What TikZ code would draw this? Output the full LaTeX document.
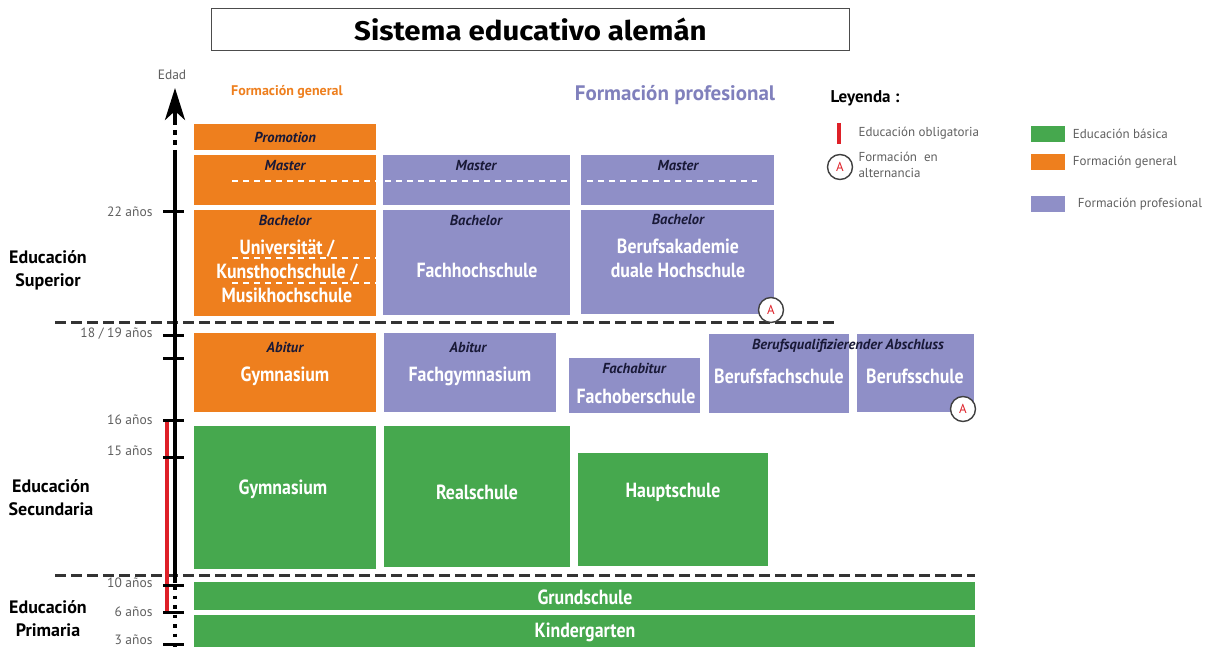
\documentclass[tikz,border=0pt]{standalone}
\usepackage{fontspec}
\setmainfont{PT Sans}
\setsansfont{PT Sans}
\newfontfamily\schoolfont[FakeStretch=0.87]{PT Sans}
\newfontfamily\titlefont[FakeStretch=1.09]{Fira Sans}
\usetikzlibrary{positioning,arrows.meta}

\definecolor{genOrange}{RGB}{238,127,30}
\definecolor{basGreen}{RGB}{70,168,78}
\definecolor{proPurple}{RGB}{143,143,199}
\definecolor{proHead}{RGB}{128,128,188}
\definecolor{degNavy}{RGB}{25,25,55}
\definecolor{ageGray}{RGB}{95,95,95}
\definecolor{oblRed}{RGB}{222,32,40}

\tikzset{
  box/.style={rectangle,inner sep=0pt,anchor=north west},
  genbox/.style={box,fill=genOrange},
  probox/.style={box,fill=proPurple},
  basbox/.style={box,fill=basGreen},
  school/.style={font=\schoolfont\bfseries\fontsize{20.5}{24}\selectfont,text=white,align=center},
  degree/.style={font=\bfseries\itshape\fontsize{14.5}{16}\selectfont,text=degNavy},
  agelbl/.style={font=\fontsize{13.5}{15}\selectfont,text=ageGray,anchor=east},
  level/.style={font=\bfseries\fontsize{18}{23}\selectfont,align=center},
  legtxt/.style={font=\fontsize{13}{16}\selectfont,text=ageGray,anchor=west,align=left},
  legbox/.style={box,minimum width=34pt,minimum height=16pt},
  altern/.style={circle,draw=black!75,line width=1.4pt,fill=white,inner sep=0pt,minimum size=25pt,text=oblRed,font=\fontsize{13}{13}\selectfont},
  stage/.style={draw=black!80,line width=3pt,dash pattern=on 11pt off 5pt},
  split/.style={draw=white,line width=2.5pt,dash pattern=on 6pt off 5pt},
  agetick/.style={line width=3pt}
}

\begin{document}
\begin{tikzpicture}[x=1pt,y=-1pt]
\useasboundingbox (0,0) rectangle (1216,647);

% title
\node[box,draw=black!70,line width=0.8pt,minimum width=638pt,minimum height=42pt,font=\titlefont\bfseries\fontsize{27}{30}\selectfont] (title) at (211,8) {Sistema educativo alemán};

% headings
\node[font=\bfseries\fontsize{14}{16}\selectfont,text=genOrange] (headGen) at (287,92) {Formación general};
\node[font=\bfseries\fontsize{21}{24}\selectfont,text=proHead] (headPro) at (675,95) {Formación profesional};

% stages
\draw[stage] (55,322) -- (835,322);
\draw[stage] (55,575) -- (975,575);

% higher education
\node[genbox,minimum width=182pt,minimum height=26pt] (promG) at (194,124) {};
\node[genbox,minimum width=182pt,minimum height=50pt] (mastG) at (194,155) {};
\node[genbox,minimum width=182pt,minimum height=106pt] (bachG) at (194,210) {};
\node[probox,minimum width=187pt,minimum height=50pt] (mastF) at (383,155) {};
\node[probox,minimum width=187pt,minimum height=105pt] (bachF) at (383,210) {};
\node[probox,minimum width=193pt,minimum height=50pt] (mastB) at (581,155) {};
\node[probox,minimum width=193pt,minimum height=104pt] (bachB) at (581,210) {};

\draw[split] (232,181) -- (376,181);
\draw[split] (385,181) -- (567,181);
\draw[split] (587,181) -- (757,181);
\draw[split] (232,258) -- (376,258);
\draw[split] (232,283) -- (376,283);

\node[degree] (promT) at (promG.center) {Promotion};
\node[degree] (mastGT) at (285,166) {Master};
\node[degree] (mastFT) at (476,166) {Master};
\node[degree] (mastBT) at (678,166) {Master};
\node[degree] (bachGT) at (285,220) {Bachelor};
\node[degree] (bachFT) at (476,220) {Bachelor};
\node[degree] (bachBT) at (678,219) {Bachelor};

\node[school] (uni) at (287,271) {Universität /\\Kunsthochschule /\\Musikhochschule};
\node[school] (fh) at (477,270) {Fachhochschule};
\node[school] (ba) at (678,258) {Berufsakademie\\duale Hochschule};

% upper secondary
\node[genbox,minimum width=182pt,minimum height=79pt] (abiG) at (194,333) {};
\node[probox,minimum width=172pt,minimum height=79pt] (abiF) at (384,333) {};
\node[probox,minimum width=131pt,minimum height=55pt] (fos) at (569,358) {};
\node[probox,minimum width=140pt,minimum height=79pt] (bfs) at (709,334) {};
\node[probox,minimum width=117pt,minimum height=78pt] (bs) at (857,334) {};

\node[degree] (abiGT) at (285,347) {Abitur};
\node[degree] (abiFT) at (468,347) {Abitur};
\node[degree] (fosT) at (634,368) {Fachabitur};
\node[degree] (bqa) at (848,346) {Berufsqualifizierender Abschluss};

\node[school] (gym) at (285,376) {Gymnasium};
\node[school] (fgym) at (470,376) {Fachgymnasium};
\node[school] (fosN) at (636,396) {Fachoberschule};
\node[school] (bfsN) at (779,376) {Berufsfachschule};
\node[school] (bsN) at (915,376) {Berufsschule};

% lower secondary
\node[basbox,minimum width=182pt,minimum height=143pt] (gymS) at (194,426) {};
\node[basbox,minimum width=186pt,minimum height=141pt] (real) at (384,426) {};
\node[basbox,minimum width=190pt,minimum height=113pt] (haupt) at (578,453) {};
\node[school] (gymSN) at (283,489) {Gymnasium};
\node[school] (realN) at (477,492) {Realschule};
\node[school] (hauptN) at (673,492) {Hauptschule};

% primary
\node[basbox,minimum width=781pt,minimum height=28pt] (grund) at (194,582) {};
\node[basbox,minimum width=781pt,minimum height=35pt] (kiga) at (194,615) {};
\node[school] (grundN) at (585,597) {Grundschule};
\node[school] (kigaN) at (585,632) {Kindergarten};

% alternance marks
\node[altern] (altB) at (771,310) {A};
\node[altern] (altS) at (963,409) {A};

% levels
\node[level] (lvSup) at (48,270) {Educación\\Superior};
\node[level] (lvSec) at (51,498) {Educación\\Secundaria};
\node[level] (lvPri) at (48,619) {Educación\\Primaria};

% age axis
\draw[oblRed,line width=3.5pt] (167,420) -- (167,612);
\coordinate (axTop) at (175,88);
\draw[line width=3.5pt,-{Stealth[length=32pt,width=20pt,inset=9pt]}] (175,121) -- (axTop);
\draw[line width=3.5pt,dash pattern=on 5pt off 5pt] (175,120) -- (175,152);
\draw[line width=3.5pt] (175,152) -- (175,583);
\draw[line width=3.5pt,dash pattern=on 3.5pt off 6pt] (175,586) -- (175,650);
\foreach \y in {212,335,358,420,457,585,612,644}
  \draw[agetick] (163,\y) -- (184,\y);
\node[agelbl,anchor=center] (edad) at (172,75) {Edad};
\node[agelbl] (a22) at (156,212) {22 años};
\node[agelbl] (a18) at (156,334) {18 / 19 años};
\node[agelbl] (a16) at (156,420) {16 años};
\node[agelbl] (a15) at (156,451) {15 años};
\node[agelbl] (a10) at (156,583) {10 años};
\node[agelbl] (a6) at (156,612) {6 años};
\node[agelbl] (a3) at (156,640) {3 años};

% legend
\node[font=\bfseries\fontsize{17}{19}\selectfont,anchor=west] (leg) at (827,98) {Leyenda :};
\draw[oblRed,line width=3.5pt] (839,123) -- (839,144);
\node[legtxt] (legObl) at (855,133) {Educación obligatoria};
\node[altern] (legA) at (840,167) {A};
\node[legtxt] (legAlt) at (855,165) {Formación\ \ en\\alternancia};
\node[legbox,fill=basGreen] (legBas) at (1031,126) {};
\node[legbox,fill=genOrange] (legGen) at (1031,154) {};
\node[legbox,fill=proPurple] (legPro) at (1031,196) {};
\node[legtxt,right=4pt of legBas] (legBasT) {Educación básica};
\node[legtxt,right=4pt of legGen] (legGenT) {Formación general};
\node[legtxt,right=9pt of legPro] (legProT) {Formación profesional};

\end{tikzpicture}
\end{document}
